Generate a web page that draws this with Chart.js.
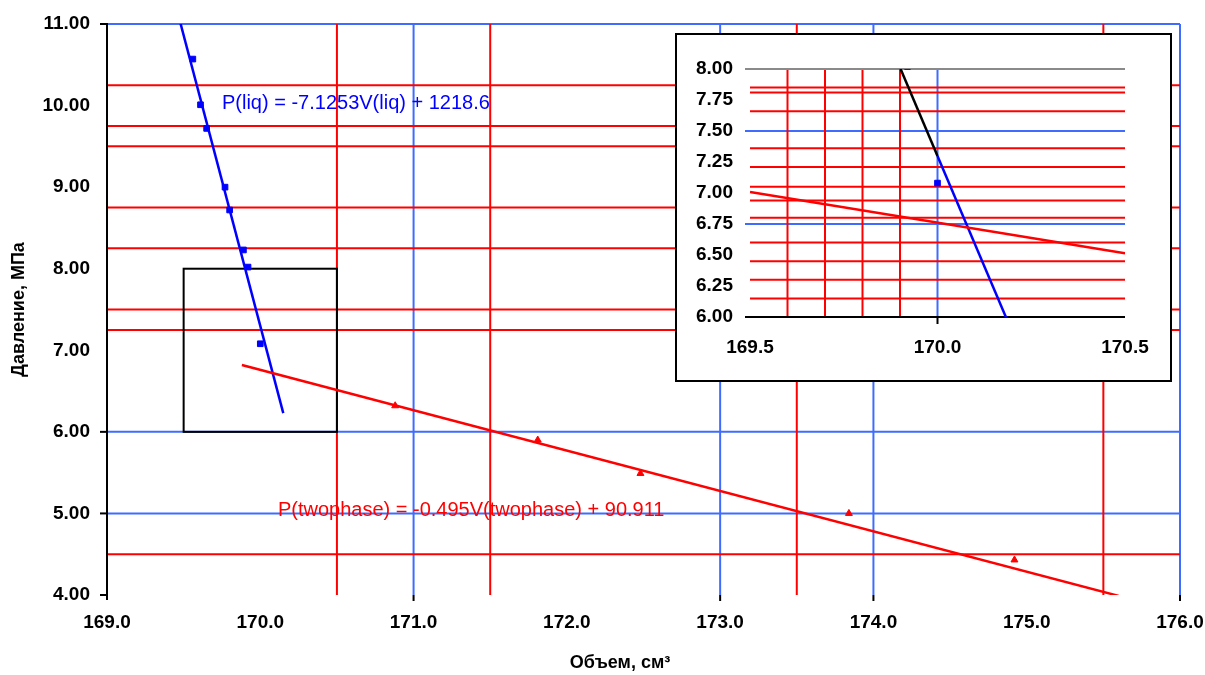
<!DOCTYPE html>
<html>
<head>
<meta charset="utf-8">
<script src="https://cdn.jsdelivr.net/npm/chart.js@4.4.1/dist/chart.umd.min.js"></script>
<style>
  html, body { margin: 0; padding: 0; background: #fff; }
  #wrap { position: relative; width: 1205px; height: 675px; overflow: hidden; }
  #main { position: absolute; left: 0; top: 0; }
  #insetBox { position: absolute; left: 675px; top: 33px; width: 493px; height: 345px;
              border: 2px solid #000; background: #fff; }
  #inset { display: block; }
</style>
</head>
<body>
<div id="wrap">
  <canvas id="main" width="1205" height="675"></canvas>
  <div id="insetBox"><canvas id="inset" width="493" height="345"></canvas></div>
</div>
<script>
// Liquid-phase measurements: volume (cm³) and pressure (MPa)
const liquidVolume   = [169.56, 169.61, 169.65, 169.77, 169.80, 169.89, 169.92, 170.00];
const liquidPressure = [10.57, 10.01, 9.72, 9.00, 8.72, 8.23, 8.02, 7.08];

// Two-phase measurements
const twoPhaseVolume   = [170.88, 171.81, 172.48, 173.84, 174.92];
const twoPhasePressure = [6.32, 5.90, 5.49, 5.00, 4.43];

// Linear fits P = a·V + b and the volume span each fit is drawn over
const liquidFit       = [-7.1253, 1218.6];
const twoPhaseFit     = [-0.495, 90.911];
const liquidFitSpan   = [169.40, 170.15];
const twoPhaseFitSpan = [169.88, 175.60];

// Main axes
const xTicks = [169, 170, 171, 172, 173, 174, 175, 176];
const yTicks = [4, 5, 6, 7, 8, 9, 10, 11];

// Reading grid of the main plot
const blueGridV = [171, 173, 174, 176];
const redGridV  = [170.5, 171.5, 173.5, 175.5];
const blueGridH = [11, 6, 5];
const redGridH  = [10.25, 9.75, 9.5, 8.75, 8.25, 7.5, 7.25, 4.5];

// Enlarged window around the intersection
const insetXRange = [169.5, 170.5];
const insetYRange = [6, 8];
const insetXTicks = [169.5, 170.0, 170.5];
const insetYTicks = [6.00, 6.25, 6.50, 6.75, 7.00, 7.25, 7.50, 7.75, 8.00];
const insetBlueV  = [170.0];
const insetRedV   = [169.6, 169.7, 169.8, 169.9];
const insetBlueH  = [7.5, 6.75];
const insetRedH   = [7.85, 7.81, 7.66, 7.36, 7.21, 7.05, 6.94, 6.80, 6.60, 6.45, 6.30, 6.15];
const insetSplitV = 170.0; // liquid fit drawn black above this volume, blue below

const FONT = "'Liberation Sans', Arial, sans-serif";
const RED = '#ff0000';
const GRID_BLUE = '#3f6cff';
const LINE_BLUE = '#0000ff';

const pairs = (xs, ys) => xs.map((x, i) => ({ x, y: ys[i] }));
const fitLine = (fit, span) => span.map(v => ({ x: v, y: fit[0] * v + fit[1] }));
const volumeAt = (fit, p) => (p - fit[1]) / fit[0];
const tickFont = { family: FONT, size: 19, weight: 'bold' };

// fixed axis boxes so the plot area lands where the layout padding puts it
const fixX = h => s => { s.height = h; s.paddingLeft = 0; s.paddingRight = 0; };
const fixY = w => s => { s.width = w; s.paddingTop = 0; s.paddingBottom = 0; };

function hLine(ctx, y, x0, x1, color, w) {
  ctx.strokeStyle = color; ctx.lineWidth = w;
  ctx.beginPath(); ctx.moveTo(x0, y); ctx.lineTo(x1, y); ctx.stroke();
}
function vLine(ctx, x, y0, y1, color, w) {
  ctx.strokeStyle = color; ctx.lineWidth = w;
  ctx.beginPath(); ctx.moveTo(x, y0); ctx.lineTo(x, y1); ctx.stroke();
}

// Reading grid, axis line, tick marks and the frame of the enlarged window
const mainGrid = {
  id: 'mainGrid',
  beforeDatasetsDraw(chart) {
    const { ctx, chartArea: a, scales: { x, y } } = chart;
    ctx.save();
    blueGridH.forEach(v => hLine(ctx, y.getPixelForValue(v), a.left, a.right, GRID_BLUE, 2));
    blueGridV.forEach(v => vLine(ctx, x.getPixelForValue(v), a.top, a.bottom, GRID_BLUE, 2));
    redGridH.forEach(v => hLine(ctx, y.getPixelForValue(v), a.left, a.right, RED, 2));
    redGridV.forEach(v => vLine(ctx, x.getPixelForValue(v), a.top, a.bottom, RED, 2));
    // tick marks
    blueGridH.concat([yTicks[0]]).forEach(v => hLine(ctx, y.getPixelForValue(v), a.left - 7, a.left, '#000', 2));
    blueGridV.forEach(v => vLine(ctx, x.getPixelForValue(v), a.bottom, a.bottom + 6, '#000', 2));
    // vertical axis
    vLine(ctx, a.left, a.top - 1, a.bottom + 5, '#000', 2);
    // frame of the enlarged window
    ctx.strokeStyle = '#000'; ctx.lineWidth = 2;
    const x0 = x.getPixelForValue(insetXRange[0]), x1 = x.getPixelForValue(insetXRange[1]);
    const y0 = y.getPixelForValue(insetYRange[1]), y1 = y.getPixelForValue(insetYRange[0]);
    ctx.strokeRect(x0, y0, x1 - x0, y1 - y0);
    ctx.restore();
  },
  afterDatasetsDraw(chart) {
    const { ctx, scales: { x, y } } = chart;
    ctx.save();
    ctx.textBaseline = 'middle';
    ctx.textAlign = 'left';
    ctx.font = `20px ${FONT}`;
    ctx.fillStyle = LINE_BLUE;
    ctx.fillText(`P(liq) = ${liquidFit[0]}V(liq) + ${liquidFit[1]}`,
                 x.getPixelForValue(169.75), y.getPixelForValue(10.03));
    ctx.fillStyle = RED;
    ctx.fillText(`P(twophase) = ${twoPhaseFit[0]}V(twophase) + ${twoPhaseFit[1]}`,
                 x.getPixelForValue(170.115), y.getPixelForValue(5.04));
    // horizontal axis title
    ctx.fillStyle = '#000';
    ctx.textAlign = 'center';
    ctx.font = `bold 18px ${FONT}`;
    ctx.fillText('Объем, см³', 620, 663);
    ctx.restore();
  }
};

new Chart(document.getElementById('main'), {
  type: 'scatter',
  data: {
    datasets: [
      { label: 'twoPhaseFit', data: fitLine(twoPhaseFit, twoPhaseFitSpan), showLine: true,
        borderColor: RED, borderWidth: 2.5, pointRadius: 0, clip: 0 },
      { label: 'liquidFit', data: fitLine(liquidFit, liquidFitSpan), showLine: true,
        borderColor: LINE_BLUE, borderWidth: 2.5, pointRadius: 0, clip: 0 },
      { label: 'twoPhase', data: pairs(twoPhaseVolume, twoPhasePressure), showLine: false,
        pointStyle: 'triangle', pointRadius: 4, backgroundColor: RED, borderColor: RED, borderWidth: 1, clip: 0 },
      { label: 'liquid', data: pairs(liquidVolume, liquidPressure), showLine: false,
        pointStyle: 'rect', pointRadius: 4, backgroundColor: LINE_BLUE, borderColor: LINE_BLUE, borderWidth: 1, clip: 0 }
    ]
  },
  options: {
    responsive: false, animation: false, devicePixelRatio: 1,
    layout: { padding: { left: 0, right: 25, top: 24, bottom: 0 } },
    plugins: { legend: { display: false }, tooltip: { enabled: false } },
    scales: {
      x: {
        type: 'linear', min: xTicks[0], max: xTicks[xTicks.length - 1],
        afterBuildTicks: s => { s.ticks = xTicks.map(v => ({ value: v })); },
        afterFit: fixX(80),
        grid: { display: false, drawTicks: false },
        border: { display: false },
        ticks: { font: tickFont, color: '#000', padding: 16, maxRotation: 0, autoSkip: false,
                 callback: v => Number(v).toFixed(1) }
      },
      y: {
        type: 'linear', min: yTicks[0], max: yTicks[yTicks.length - 1],
        afterBuildTicks: s => { s.ticks = yTicks.map(v => ({ value: v })); },
        afterFit: fixY(107),
        grid: { display: false, drawTicks: false },
        border: { display: false },
        ticks: { font: tickFont, color: '#000', padding: 17, autoSkip: false,
                 callback: v => Number(v).toFixed(2) },
        title: { display: true, text: 'Давление, МПа', color: '#000',
                 font: { family: FONT, size: 18, weight: 'bold' }, padding: { top: 8, bottom: 0 } }
      }
    }
  },
  plugins: [mainGrid]
});

// Grid of the enlarged window
const insetGrid = {
  id: 'insetGrid',
  beforeDatasetsDraw(chart) {
    const { ctx, chartArea: a, scales: { x, y } } = chart;
    const top = y.getPixelForValue(insetYRange[1]), bottom = y.getPixelForValue(insetYRange[0]);
    ctx.save();
    insetBlueH.forEach(v => hLine(ctx, y.getPixelForValue(v), a.left - 5, a.right, GRID_BLUE, 2));
    insetBlueV.forEach(v => vLine(ctx, x.getPixelForValue(v), top, bottom, GRID_BLUE, 2));
    insetRedH.forEach(v => hLine(ctx, y.getPixelForValue(v), a.left, a.right, RED, 2));
    insetRedV.forEach(v => vLine(ctx, x.getPixelForValue(v), top, bottom, RED, 2));
    hLine(ctx, top, a.left - 5, a.right, '#8a8a8a', 2);
    hLine(ctx, bottom, a.left - 5, a.right, '#000', 2);
    insetBlueV.forEach(v => vLine(ctx, x.getPixelForValue(v), bottom, bottom + 7, '#000', 2));
    ctx.restore();
  }
};

new Chart(document.getElementById('inset'), {
  type: 'scatter',
  data: {
    datasets: [
      { label: 'twoPhaseFit', data: fitLine(twoPhaseFit, insetXRange), showLine: true,
        borderColor: RED, borderWidth: 2.5, pointRadius: 0, clip: 0 },
      { label: 'liquidFitUpper', data: fitLine(liquidFit, [volumeAt(liquidFit, insetYRange[1] + 0.1), insetSplitV]),
        showLine: true, borderColor: '#000', borderWidth: 2.5, pointRadius: 0, clip: 0 },
      { label: 'liquidFitLower', data: fitLine(liquidFit, [insetSplitV, volumeAt(liquidFit, insetYRange[0] - 0.1)]),
        showLine: true, borderColor: LINE_BLUE, borderWidth: 2.5, pointRadius: 0, clip: 0 },
      { label: 'liquid', data: pairs(liquidVolume, liquidPressure), showLine: false,
        pointStyle: 'rect', pointRadius: 4, backgroundColor: LINE_BLUE, borderColor: LINE_BLUE, borderWidth: 1, clip: 0 }
    ]
  },
  options: {
    responsive: false, animation: false, devicePixelRatio: 1,
    layout: { padding: { left: 0, right: 45, top: 34, bottom: 0 } },
    plugins: { legend: { display: false }, tooltip: { enabled: false } },
    scales: {
      x: {
        type: 'linear', min: insetXRange[0], max: insetXRange[1],
        afterBuildTicks: s => { s.ticks = insetXTicks.map(v => ({ value: v })); },
        afterFit: fixX(63),
        grid: { display: false, drawTicks: false },
        border: { display: false },
        ticks: { font: tickFont, color: '#000', padding: 19, maxRotation: 0, autoSkip: false,
                 callback: v => Number(v).toFixed(1) }
      },
      y: {
        type: 'linear', min: insetYRange[0], max: insetYRange[1],
        afterBuildTicks: s => { s.ticks = insetYTicks.map(v => ({ value: v })); },
        afterFit: fixY(73),
        grid: { display: false, drawTicks: false },
        border: { display: false },
        ticks: { font: tickFont, color: '#000', padding: 17, autoSkip: false,
                 callback: v => Number(v).toFixed(2) }
      }
    }
  },
  plugins: [insetGrid]
});
</script>
</body>
</html>
